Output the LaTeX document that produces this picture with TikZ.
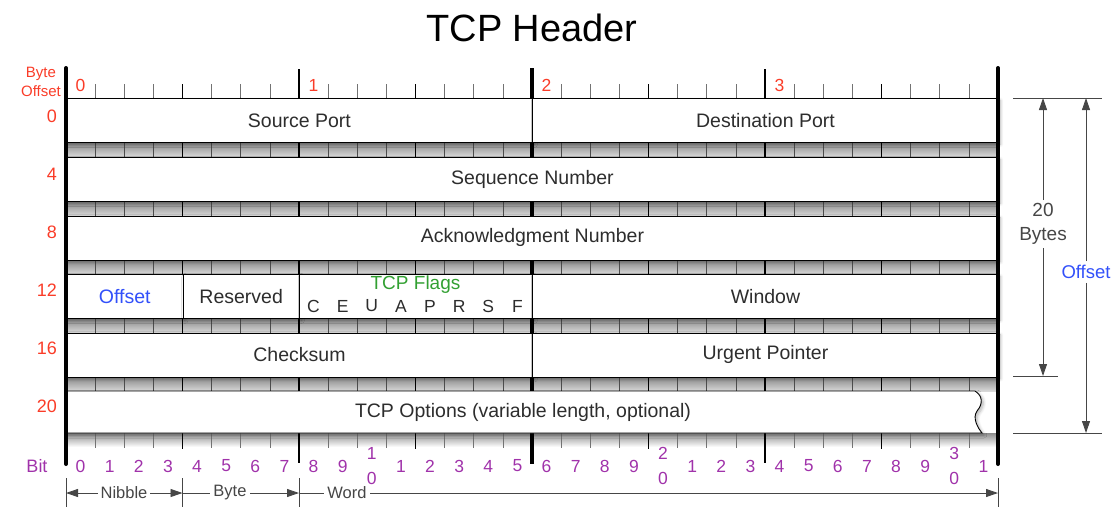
\documentclass[tikz,border=0pt]{standalone}
\usepackage{fontspec}
\setmainfont{Liberation Sans}
\usetikzlibrary{arrows.meta,shadows.blur}
\definecolor{offred}{RGB}{250,60,40}
\definecolor{bitpurple}{RGB}{160,50,170}
\definecolor{offblue}{RGB}{50,80,250}
\definecolor{flaggreen}{RGB}{50,160,50}
\definecolor{txt}{RGB}{45,45,45}
\definecolor{dimgray}{RGB}{70,70,70}
\tikzset{
  softshadow/.style={blur shadow={shadow xshift=2pt, shadow yshift=-2pt, shadow blur radius=3pt, shadow blur steps=6, shadow opacity=30}},
  field/.style={draw=black, line width=0.9pt, fill=white, anchor=north west, softshadow,
    minimum height=44pt, inner sep=0pt, text=txt, font=\fontsize{19.5}{22}\selectfont},
  fieldtext/.style={text=txt, inner sep=0pt, font=\fontsize{19.5}{22}\selectfont},
  rowlbl/.style={text=offred, anchor=east, inner sep=0pt, font=\fontsize{18}{20}\selectfont},
  bytelbl/.style={text=offred, inner sep=0pt, font=\fontsize{17.5}{20}\selectfont},
  bitlbl/.style={text=bitpurple, inner sep=0pt, font=\fontsize{17.5}{20}\selectfont},
  flaglbl/.style={text=txt, inner sep=0pt, font=\fontsize{17.5}{20}\selectfont},
  smalllbl/.style={text=dimgray, fill=white, inner xsep=3pt, inner ysep=1pt, font=\fontsize{16.5}{18}\selectfont},
  bitline/.style={draw=black!70, line width=0.6pt},
  rulerbit/.style={draw=black!55, line width=0.6pt},
  nibline/.style={draw=black, line width=1.7pt},
  byteline/.style={draw=black, line width=1.9pt},
  wordline/.style={draw=black, line width=3.6pt},
  dimline/.style={draw=dimgray, line width=0.9pt},
  dimarrow/.style={draw=dimgray, line width=0.9pt, -{Triangle[length=12pt,width=8pt]}},
  dimarrows/.style={draw=dimgray, line width=0.9pt, {Triangle[length=12pt,width=8pt]}-{Triangle[length=12pt,width=8pt]}},
}
\begin{document}
\begin{tikzpicture}[x=1pt,y=-1pt]
\useasboundingbox (0,0) rectangle (1117,507);

% title
\node[inner sep=0pt, font=\fontsize{38}{44}\selectfont] (title) at (532,28) {TCP Header};

% ---- bands between rows ----
\foreach \yb in {142,201,259.5,318,376.5} {
  \shade[top color=black!48, bottom color=black!14] (66,\yb) rectangle (998,\yb+15);
  \foreach \i in {1,...,31} \draw[bitline] (66+\i*29.125,\yb) -- (66+\i*29.125,\yb+15);
  \foreach \i in {4,12,20,28} \draw[nibline] (66+\i*29.125,\yb) -- (66+\i*29.125,\yb+15);
  \foreach \i in {8,24} \draw[byteline] (66+\i*29.125,\yb) -- (66+\i*29.125,\yb+15);
  \draw[wordline] (532,\yb) -- (532,\yb+15);
}
% bottom strip
\shade[top color=black!45, bottom color=white] (66,433) rectangle (998,447);

% ---- top ruler ----
\foreach \i in {1,...,31} \draw[rulerbit] (66+\i*29.125,84) -- (66+\i*29.125,98);
\foreach \i in {4,12,20,28} \draw[nibline] (66+\i*29.125,84) -- (66+\i*29.125,98);
\foreach \i in {8,24} \draw[byteline] (66+\i*29.125,69) -- (66+\i*29.125,98);
\draw[wordline] (532,68) -- (532,98);

% ---- bottom ruler ----
\foreach \i in {1,...,31} \draw[rulerbit] (66+\i*29.125,433) -- (66+\i*29.125,448);
\foreach \i in {4,12,20,28} \draw[nibline] (66+\i*29.125,433) -- (66+\i*29.125,449);
\foreach \i in {8,24} \draw[byteline] (66+\i*29.125,433) -- (66+\i*29.125,463);
\draw[wordline] (532,433) -- (532,464);

% ---- fields ----
\node[field, minimum width=466pt] (srcport) at (66,98) {Source Port};
\node[field, minimum width=466pt] (dstport) at (532,98) {Destination Port};
\node[field, minimum width=932pt] (seqnum) at (66,157) {Sequence Number};
\node[field, minimum width=932pt] (acknum) at (66,215.5) {Acknowledgment Number};
\node[field, minimum width=116.5pt, text=offblue] (offset) at (66,274) {Offset};
\node[field, minimum width=116.5pt] (reserved) at (182.5,274) {Reserved};
\node[field, minimum width=233pt] (flags) at (299,274) {};
\node[field, minimum width=466pt] (window) at (532,274) {Window};
\node[field, minimum width=466pt] (checksum) at (66,332.5) {Checksum};
\node[field, minimum width=466pt] (urgent) at (532,332.5) {Urgent Pointer};

\node[text=flaggreen, inner sep=0pt, font=\fontsize{19}{22}\selectfont] (flagtitle) at (415.5,284.5) {TCP Flags};
\foreach \i/\f in {8/C,9/E,10/U,11/A,12/P,13/R,14/S,15/F}
  \node[flaglbl] (flag\f) at (66+\i*29.125+14.56,306) {\f};

% options box with wavy edge
\draw[line width=0.9pt, fill=white, softshadow] (66,391) -- (975,391)
  .. controls (983,396) and (983,404) .. (977,411)
  .. controls (972,418) and (978,428) .. (982,433)
  -- (66,433) -- cycle;
\node[fieldtext] (options) at (523,412) {TCP Options (variable length, optional)};

% ---- outer edges ----
\draw[draw=black, line width=4pt, line cap=round] (66,68) -- (66,464);
\draw[draw=black, line width=4pt, line cap=round] (998,68) -- (998,464);

% ---- byte labels ----
\foreach \k in {0,1,2,3}
  \node[bytelbl] (byte\k) at (66+\k*233+14.56,85.5) {\k};

\node[text=offred, align=center, inner sep=0pt, font=\fontsize{15}{18.5}\selectfont] (byteoffset) at (41,82) {Byte\\Offset};

\foreach \o/\y in {0/116,4/174,8/232.5,12/290,16/348.5,20/406}
  \node[rowlbl] (row\o) at (57,\y) {\o};

% ---- bit labels ----
\node[text=bitpurple, inner sep=0pt, font=\fontsize{18}{20}\selectfont] (bitword) at (37,466) {Bit};
\foreach \i/\t in {0/0,1/1,2/2,3/3,4/4,5/5,6/6,7/7,8/8,9/9,11/1,12/2,13/3,14/4,15/5,16/6,17/7,18/8,19/9,21/1,22/2,23/3,24/4,25/5,26/6,27/7,28/8,29/9,31/1}
  \node[bitlbl] (bit\i) at (66+\i*29.125+14.56,466) {\t};
\foreach \i/\t in {10/1,20/2,30/3} {
  \node[bitlbl] (bit\i a) at (66+\i*29.125+14.56,453) {\t};
  \node[bitlbl] (bit\i b) at (66+\i*29.125+14.56,478) {0};
}

% ---- Nibble / Byte / Word ----
\coordinate (m0t) at (66,478);   \coordinate (m0b) at (66,507);
\coordinate (m1t) at (182.5,478); \coordinate (m1b) at (182.5,507);
\coordinate (m2t) at (299,478);  \coordinate (m2b) at (299,507);
\coordinate (m3t) at (998,478);  \coordinate (m3b) at (998,507);
\draw[dimline] (m0t) -- (m0b);
\draw[dimline] (m1t) -- (m1b);
\draw[dimline] (m2t) -- (m2b);
\draw[dimline] (m3t) -- (m3b);
\coordinate (a0) at (66,493); \coordinate (a1) at (182.5,493);
\coordinate (a2) at (299,493); \coordinate (a3) at (998,493);
\draw[dimarrows] (a0) -- (a1);
\draw[dimarrow] (a1) -- (a2);
\draw[dimarrow] (a2) -- (a3);
\node[smalllbl] (nibble) at (124,493) {Nibble};
\node[smalllbl] (bytew) at (230,493) {Byte};
\node[smalllbl] (wordw) at (347,493) {Word};

% ---- right dimensions ----
\coordinate (h1a) at (1013,98);  \coordinate (h1b) at (1102,98);
\coordinate (h2a) at (1013,376); \coordinate (h2b) at (1058,376);
\coordinate (h3a) at (1013,433); \coordinate (h3b) at (1102,433);
\draw[dimline] (h1a) -- (h1b);
\draw[dimline] (h2a) -- (h2b);
\draw[dimline] (h3a) -- (h3b);
\coordinate (t20) at (1043,98); \coordinate (b20) at (1043,376);
\coordinate (toff) at (1086,98); \coordinate (boff) at (1086,433);
\node[align=center, text=dimgray, inner xsep=1pt, inner ysep=3pt, font=\fontsize{19}{24}\selectfont] (bytes20) at (1043,224) {20\\Bytes};
\node[text=offblue, inner xsep=1pt, inner ysep=4pt, font=\fontsize{18.5}{20}\selectfont] (offlbl) at (1086,272) {Offset};
\draw[dimarrow] (bytes20.north) -- (t20);
\draw[dimarrow] (bytes20.south) -- (b20);
\draw[dimarrow] (offlbl.north) -- (toff);
\draw[dimarrow] (offlbl.south) -- (boff);
\end{tikzpicture}
\end{document}
